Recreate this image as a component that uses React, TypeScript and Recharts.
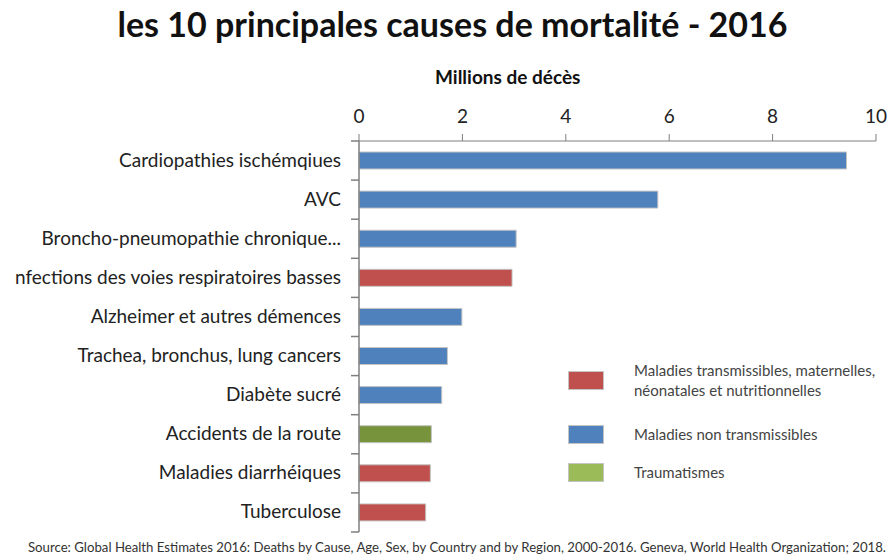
import { BarChart, Bar, XAxis, YAxis, Cell } from "recharts";

// Causes de décès, de haut en bas
const causes = [
  "Cardiopathies ischémqiues",
  "AVC",
  "Broncho-pneumopathie chronique...",
  "nfections des voies respiratoires basses",
  "Alzheimer et autres démences",
  "Trachea, bronchus, lung cancers",
  "Diabète sucré",
  "Accidents de la route",
  "Maladies diarrhéiques",
  "Tuberculose",
];

// Millions de décès (2016)
const deaths = [9.43, 5.78, 3.04, 2.96, 1.99, 1.71, 1.6, 1.4, 1.38, 1.29];

// groupe de chaque cause
const groups = [
  "nontrans",
  "nontrans",
  "nontrans",
  "trans",
  "nontrans",
  "nontrans",
  "nontrans",
  "trauma",
  "trans",
  "trans",
];

const xTicks = [0, 2, 4, 6, 8, 10];

const legendGroups = ["trans", "nontrans", "trauma"];
const legendLabels = [
  ["Maladies transmissibles, maternelles,", "néonatales et nutritionnelles"],
  ["Maladies non transmissibles"],
  ["Traumatismes"],
];

const barColors: Record<string, string> = {
  trans: "#C0504D",
  nontrans: "#4F81BD",
  trauma: "#77933C",
};
const legendColors: Record<string, string> = {
  trans: "#C0504D",
  nontrans: "#4F81BD",
  trauma: "#9BBB59",
};
const legendTops = [360, 424, 462];

const data = causes.map((cause, i) => ({
  cause,
  deaths: deaths[i],
  group: groups[i],
}));

const font = "Lato, 'Open Sans', sans-serif";
const axisColor = "#7f7f7f";

const W = 893;
const H = 557;
const margin = { top: 101, right: 17, bottom: 25, left: 8 };
const xAxisHeight = 40;
const tickSize = 6;
const tickMargin = 12;
// hauteur d'une bande de catégorie (Excel met les graduations entre les catégories)
const band = (H - margin.top - xAxisHeight - margin.bottom) / causes.length;

function CauseTick(props: any) {
  const { x, y, payload, index } = props;
  const axisX = x + tickSize + tickMargin;
  const last = index === causes.length - 1;
  return (
    <g>
      <line
        x1={axisX - 8}
        x2={axisX}
        y1={y - band / 2}
        y2={y - band / 2}
        stroke={axisColor}
        strokeWidth={1.5}
      />
      {last && (
        <line
          x1={axisX - 8}
          x2={axisX}
          y1={y + band / 2}
          y2={y + band / 2}
          stroke={axisColor}
          strokeWidth={1.5}
        />
      )}
      <text x={x} y={y} dy={6} textAnchor="end" fontSize={19} fill="#222">
        {payload.value}
      </text>
    </g>
  );
}

export default function App() {
  return (
    <div
      style={{
        position: "absolute",
        left: 0,
        top: 0,
        width: W,
        height: H,
        background: "#fff",
        fontFamily: font,
      }}
    >
      <div
        style={{
          position: "absolute",
          left: 0,
          width: 905,
          top: 3,
          textAlign: "center",
          fontSize: 34,
          fontWeight: 700,
          color: "#111",
        }}
      >
        les 10 principales causes de mortalité - 2016
      </div>
      <div
        style={{
          position: "absolute",
          left: 435,
          top: 65,
          fontSize: 19,
          fontWeight: 700,
          color: "#111",
        }}
      >
        Millions de décès
      </div>

      <BarChart
        width={W}
        height={H}
        data={data}
        layout="vertical"
        margin={margin}
        barSize={17}
        style={{ fontFamily: font }}
      >
        <XAxis
          type="number"
          orientation="top"
          domain={[0, 10]}
          ticks={xTicks}
          height={xAxisHeight}
          tickSize={7}
          tickMargin={11}
          stroke={axisColor}
          tick={{ fontSize: 19, fill: "#222" }}
        />
        <YAxis
          type="category"
          dataKey="cause"
          width={351}
          stroke={axisColor}
          axisLine={{ stroke: axisColor, strokeWidth: 1.5 }}
          tickLine={false}
          tickSize={tickSize}
          tickMargin={tickMargin}
          interval={0}
          tick={<CauseTick />}
        />
        <Bar
          dataKey="deaths"
          stroke="#c4c4c4"
          strokeWidth={1}
          isAnimationActive={false}
        >
          {data.map((d) => (
            <Cell key={d.cause} fill={barColors[d.group]} />
          ))}
        </Bar>
      </BarChart>

      {legendGroups.map((g, i) => (
        <div
          key={g}
          style={{
            position: "absolute",
            left: 568,
            top: legendTops[i],
            display: "flex",
            alignItems: "center",
          }}
        >
          <div
            style={{
              width: 34,
              height: 17,
              background: legendColors[g],
              border: "1px solid #c4c4c4",
              marginRight: 30,
            }}
          />
          <div style={{ fontSize: 15, color: "#444", lineHeight: "20px" }}>
            {legendLabels[i].map((line) => (
              <div key={line}>{line}</div>
            ))}
          </div>
        </div>
      ))}

      <div
        style={{
          position: "absolute",
          left: 28,
          top: 539,
          fontSize: 13.2,
          color: "#333",
          whiteSpace: "nowrap",
        }}
      >
        Source: Global Health Estimates 2016: Deaths by Cause, Age, Sex, by
        Country and by Region, 2000-2016. Geneva, World Health Organization;
        2018.
      </div>
    </div>
  );
}
